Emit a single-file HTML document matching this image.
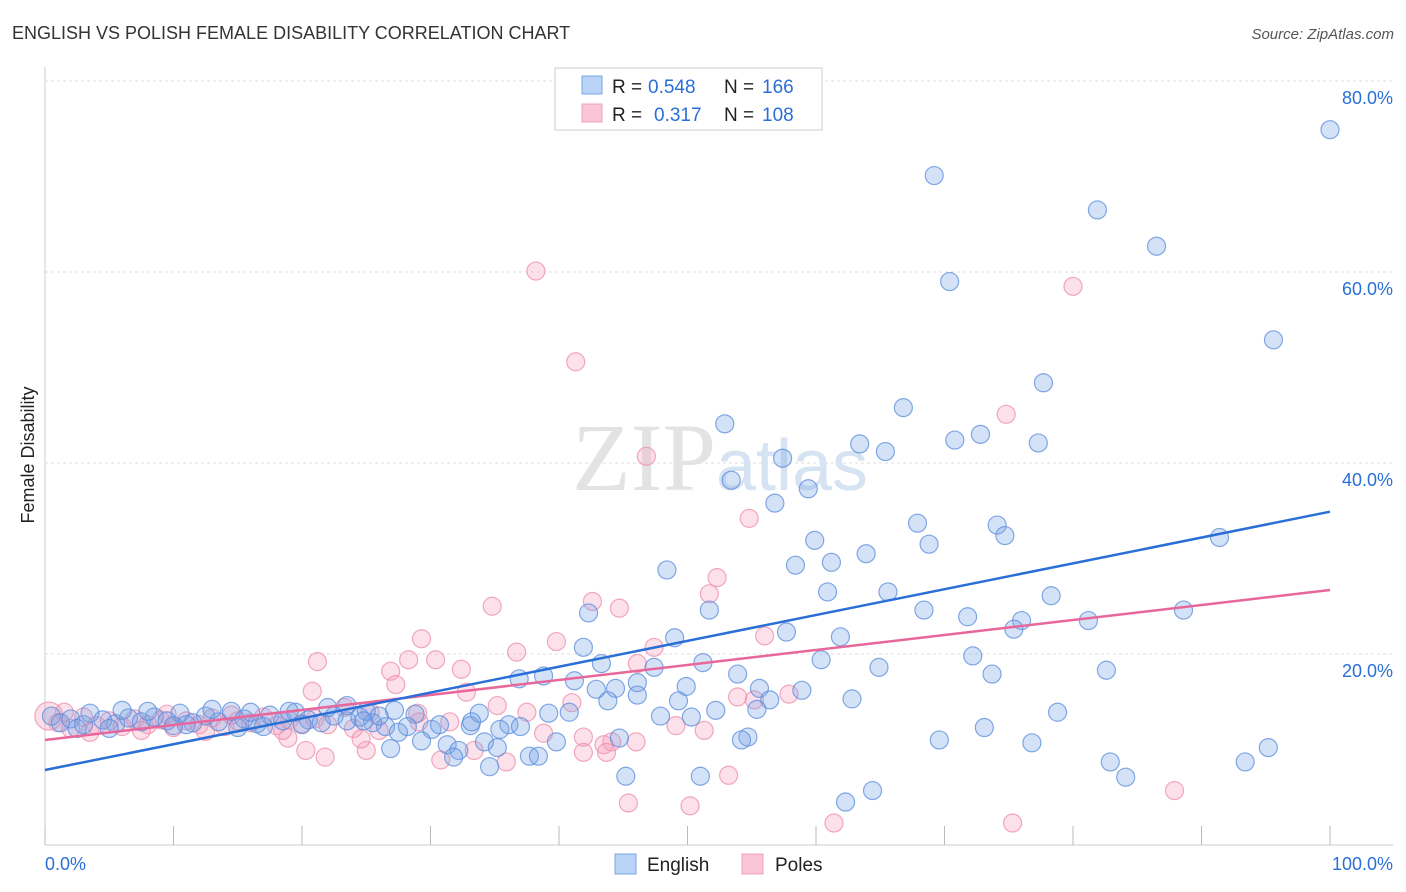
<!DOCTYPE html>
<html><head><meta charset="utf-8"><style>
body{margin:0;background:#fff;font-family:"Liberation Sans",sans-serif}
svg{display:block}
</style></head><body>
<svg id="chart" width="1406" height="892">
<text x="12" y="39" font-size="18" fill="#333">ENGLISH VS POLISH FEMALE DISABILITY CORRELATION CHART</text>
<text x="1394" y="39" font-size="15" fill="#555" font-style="italic" text-anchor="end">Source: ZipAtlas.com</text>
<text x="34" y="455" font-size="18" fill="#222" text-anchor="middle" transform="rotate(-90 34 455)">Female Disability</text>
<g id="grid"></g>
<text x="720" y="490" font-size="96" fill="#e3e3e3" text-anchor="middle" font-family="Liberation Serif,serif">ZIP<tspan fill="#d5e3f3" font-family="Liberation Sans,sans-serif" font-size="72">atlas</tspan></text>
<g id="pts"></g>
<g id="lines"></g>
<g>
<rect x="555" y="68" width="267" height="62" fill="#fff" stroke="#ccc"/>
<rect x="582" y="76" width="20" height="18" fill="#b8d3f5" stroke="#7aa6e6"/>
<rect x="582" y="104" width="20" height="18" fill="#f9c6d5" stroke="#f0a0bb"/>
<g font-size="19">
<text x="612" y="93" fill="#222">R =</text><text x="648" y="93" fill="#2a6fd6">0.548</text>
<text x="724" y="93" fill="#222">N =</text><text x="762" y="93" fill="#2a6fd6">166</text></g>
<g font-size="19">
<text x="612" y="121" fill="#222">R =</text><text x="654" y="121" fill="#2a6fd6">0.317</text>
<text x="724" y="121" fill="#222">N =</text><text x="762" y="121" fill="#2a6fd6">108</text></g>
</g>
<g>
<rect x="615" y="854" width="21" height="20" fill="#b8d3f5" stroke="#7aa6e6"/>
<text x="647" y="871" font-size="19" fill="#222">English</text>
<rect x="742" y="854" width="21" height="20" fill="#f9c6d5" stroke="#f0a0bb"/>
<text x="775" y="871" font-size="19" fill="#222">Poles</text>
</g>
<text x="45" y="870" font-size="18" fill="#2a6fd6">0.0%</text>
<text x="1393" y="870" font-size="18" fill="#2a6fd6" text-anchor="end">100.0%</text>
</svg>
<script>
const yTicks=[20,40,60,80];
const xTicks=[0,10,20,30,40,50,60,70,80,90,100];
const englishPts=[[100,74.9],[69.2,70.1],[81.9,66.5],[86.5,62.7],[70.4,59.0],[95.6,52.9],[77.7,48.4],[66.8,45.8],[52.9,44.1],[63.4,42.0],[72.8,43.0],[70.8,42.4],[77.3,42.1],[65.4,41.2],[57.4,40.5],[53.4,38.2],[59.4,37.3],[56.8,35.8],[67.9,33.7],[74.1,33.5],[91.4,32.2],[74.7,32.4],[68.8,31.5],[59.9,31.9],[63.9,30.5],[61.2,29.6],[58.4,29.3],[48.4,28.8],[65.6,26.5],[60.9,26.5],[78.3,26.1],[42.3,24.3],[51.7,24.6],[68.4,24.6],[71.8,23.9],[88.6,24.6],[76.0,23.5],[81.2,23.5],[75.4,22.6],[57.7,22.3],[61.9,21.8],[49.0,21.7],[41.9,20.7],[72.2,19.8],[60.4,19.4],[51.2,19.1],[43.3,19.0],[47.4,18.6],[64.9,18.6],[82.6,18.3],[73.7,17.9],[53.9,17.9],[36.9,17.4],[38.8,17.7],[41.2,17.2],[46.1,17.0],[49.9,16.6],[44.4,16.4],[42.9,16.3],[55.6,16.4],[58.9,16.2],[46.1,15.7],[56.4,15.2],[62.8,15.3],[43.8,15.1],[49.3,15.1],[55.4,14.2],[52.2,14.1],[78.8,13.9],[39.2,13.8],[40.8,13.9],[47.9,13.5],[50.3,13.4],[27.2,14.1],[28.8,13.7],[26.5,12.4],[28.2,12.4],[30.1,12.1],[30.7,12.6],[33.1,12.5],[33.8,13.8],[33.2,12.9],[36.1,12.6],[35.4,12.1],[37.0,12.4],[73.1,12.3],[69.6,11.0],[54.7,11.3],[54.2,11.0],[44.7,11.2],[39.8,10.8],[34.2,10.8],[31.3,10.5],[29.3,10.9],[26.9,10.1],[32.2,9.9],[35.2,10.2],[76.8,10.7],[95.2,10.2],[37.7,9.3],[38.4,9.3],[31.8,9.2],[34.6,8.2],[82.9,8.7],[93.4,8.7],[84.1,7.1],[45.2,7.2],[51.0,7.2],[64.4,5.7],[62.3,4.5],
[0.5,13.5],[1.2,12.8],[2,13.2],[3,12.6],[3.5,13.8],[4.5,13.1],[5.5,12.7],[6.5,13.3],[7.5,12.9],[8.5,13.4],[9.5,13.0],[10.5,13.8],[11.5,12.8],[12.5,13.5],[13.5,12.9],[14.5,14.0],[15.5,13.2],[16.5,12.7],[17.5,13.6],[18.5,13.0],[19.5,13.9],[20.5,13.1],[21.5,12.8],[22.5,13.5],[23.5,13.0],[24.5,13.4],[25.5,12.8],[17,12.4],[5,12.2],[10,12.5],[15,12.3],[20,12.6],[19,14.0],[22,14.4],[23.5,14.6],[25,14.0],[24.8,13.0],[26,13.5],[27.5,11.8],[13,14.2],[8,14.0],[2.5,12.2],[11,12.6],[6,14.1],[16,13.9]];
const polesPts=[[38.2,60.1],[80.0,58.5],[41.3,50.6],[74.8,45.1],[46.8,40.7],[54.8,34.2],[52.3,28.0],[51.7,26.3],[42.6,25.5],[44.7,24.8],[34.8,25.0],[29.3,21.6],[39.8,21.3],[56.0,21.9],[47.4,20.7],[36.7,20.2],[21.2,19.2],[28.3,19.4],[30.4,19.4],[26.9,18.2],[32.4,18.4],[46.1,19.0],[27.3,16.8],[20.8,16.1],[32.8,16.0],[53.9,15.5],[57.9,15.8],[55.2,15.2],[41.0,14.9],[35.2,14.6],[37.5,13.9],[29.1,12.9],[31.5,12.9],[49.1,12.5],[51.3,12.0],[26.0,12.0],[38.8,11.7],[41.9,11.3],[18.9,11.2],[44.1,10.8],[46.0,10.8],[43.5,10.5],[20.3,9.9],[25.0,9.9],[33.4,9.9],[41.9,9.7],[43.7,9.7],[21.8,9.2],[30.8,8.9],[35.9,8.7],[53.2,7.3],[87.9,5.7],[45.4,4.4],[50.2,4.1],[61.4,2.3],[75.3,2.3],[23.3,14.4],[25.3,13.9],[24.0,12.2],[24.6,11.1],[29.0,13.8],
[1,12.8],[2,12.2],[3,13.4],[4,12.5],[5,13.0],[6,12.4],[7,13.2],[8,12.6],[9,13.1],[10,12.3],[11,13.0],[12,12.6],[13,13.3],[14,12.4],[15,13.0],[16,12.8],[17,13.4],[18,12.5],[19,13.1],[20,12.7],[21,13.2],[22,12.6],[3.5,11.8],[7.5,12.0],[12.5,11.9],[1.5,13.9],[9.5,13.7],[14.5,13.6],[18.5,12.0]];
const bigPole=[[0.3,13.5]];
const englishTrend=[7.85,34.9];
const polesTrend=[11.0,26.7];
const X=v=>45+v*12.85, Y=v=>845-v*9.55;
const NS='http://www.w3.org/2000/svg';
const g=document.getElementById('grid');
function mk(tag,attrs,parent){const e=document.createElementNS(NS,tag);for(const k in attrs)e.setAttribute(k,attrs[k]);parent.appendChild(e);return e;}
mk('line',{x1:45,y1:67,x2:45,y2:845,stroke:'#ccc'},g);
mk('line',{x1:45,y1:845,x2:1393,y2:845,stroke:'#ccc'},g);
yTicks.forEach(t=>{
 const l=mk('line',{x1:45,x2:1393,y1:Y(t),y2:Y(t),stroke:'#ddd','stroke-dasharray':'3,3'},g);
 
 
 const tx=mk('text',{x:1393,y:Y(t)+23,'font-size':18,fill:'#2a6fd6','text-anchor':'end'},g);
 tx.textContent=t.toFixed(1)+'%';
 
 
});
xTicks.forEach(t=>{
 const l=mk('line',{x1:X(t),x2:X(t),y1:826,y2:845,stroke:'#bbb'},g);
 
 
});
const p=document.getElementById('pts');
polesPts.forEach(d=>{
 const c=mk('circle',{cx:X(d[0]),cy:Y(d[1]),r:9,fill:'rgba(245,160,190,0.32)',stroke:'rgba(238,140,170,0.75)','stroke-width':1.2},p);
 
 
});
bigPole.forEach(d=>{
 const c=mk('circle',{cx:X(d[0]),cy:Y(d[1]),r:14,fill:'rgba(245,160,190,0.35)',stroke:'rgba(238,140,170,0.75)','stroke-width':1.2},p);
 
 
});
englishPts.forEach(d=>{
 const c=mk('circle',{cx:X(d[0]),cy:Y(d[1]),r:9,fill:'rgba(120,165,230,0.32)',stroke:'rgba(90,140,220,0.75)','stroke-width':1.2},p);
 
 
});
const L=document.getElementById('lines');
const l1=mk('line',{x1:X(0),y1:Y(polesTrend[0]),x2:X(100),y2:Y(polesTrend[1]),stroke:'#e8679a','stroke-width':2.5},L);


const l2=mk('line',{x1:X(0),y1:Y(englishTrend[0]),x2:X(100),y2:Y(englishTrend[1]),stroke:'#2a6fd6','stroke-width':2.5},L);


</script>
</body></html>
